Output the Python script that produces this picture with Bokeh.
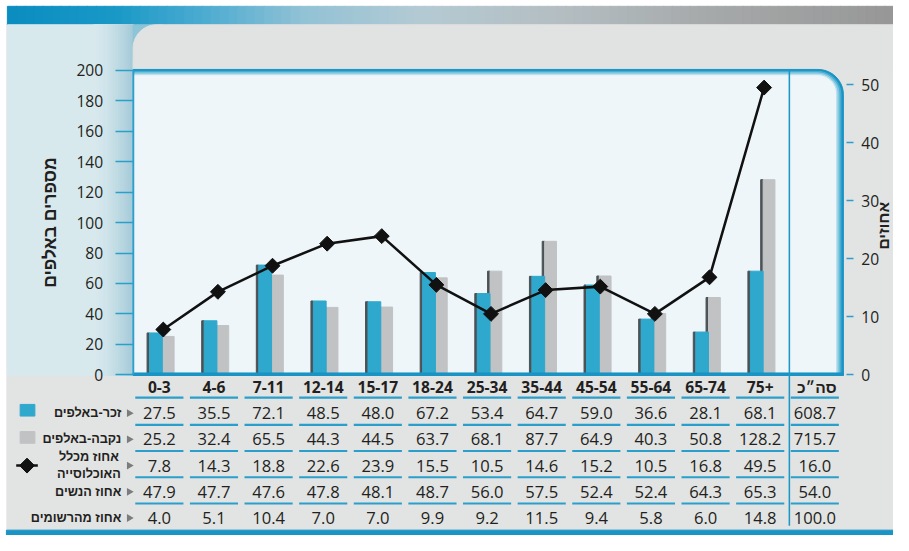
import math
from bokeh.plotting import figure
from bokeh.models import LinearAxis, Range1d, FixedTicker
from bokeh.core.properties import value
from bokeh.embed import file_html
from bokeh.resources import INLINE

# ---------------- data ----------------
age_groups = ["0-3", "4-6", "7-11", "12-14", "15-17", "18-24", "25-34",
              "35-44", "45-54", "55-64", "65-74", "75+"]
total_label = "סה״כ"
male_thousands = [27.5, 35.5, 72.1, 48.5, 48.0, 67.2, 53.4, 64.7, 59.0, 36.6, 28.1, 68.1]
female_thousands = [25.2, 32.4, 65.5, 44.3, 44.5, 63.7, 68.1, 87.7, 64.9, 40.3, 50.8, 128.2]
pct_of_population = [7.8, 14.3, 18.8, 22.6, 23.9, 15.5, 10.5, 14.6, 15.2, 10.5, 16.8, 49.5]
pct_women = [47.9, 47.7, 47.6, 47.8, 48.1, 48.7, 56.0, 57.5, 52.4, 52.4, 64.3, 65.3]
pct_of_registered = [4.0, 5.1, 10.4, 7.0, 7.0, 9.9, 9.2, 11.5, 9.4, 5.8, 6.0, 14.8]
row_totals = [608.7, 715.7, 16.0, 54.0, 100.0]
row_labels = ["זכר-באלפים", "נקבה-באלפים", "אחוז מכלל", "האוכלוסייה", "אחוז הנשים", "אחוז מהרשומים"]
left_ticks = [0, 20, 40, 60, 80, 100, 120, 140, 160, 180, 200]
right_ticks = [0, 10, 20, 30, 40, 50]
left_title = "מספרים באלפים"
right_title = "אחוזים"

# ---------------- layout (design-pixel constants, 909 x 551 design) ----------------
DW, DH = 909, 551
W, H = 893, 535
S = 0.5 * (W / DW + H / DH)    # scale for pixel sizes (fonts, widths)
C0, DX = 161.7, 55.6          # design pixel of first category centre, pixels per category
Y0 = 385.5                     # design pixel of value 0
SY = 313.5 / 200.0             # design pixels per thousand
SP = (385.5 - 86.7) / 50.0     # design pixels per percent

def X(px):
    return (px - C0) / DX

def Y(py):
    return (Y0 - py) / SY

def XL(w):
    return w / DX

def fs(px):
    return "%.1fpx" % (px * S)

def hex2rgb(h):
    return tuple(int(h[i:i + 2], 16) for i in (1, 3, 5))

def mix(c1, c2, t):
    a, b = hex2rgb(c1), hex2rgb(c2)
    return "#%02x%02x%02x" % tuple(int(round(a[k] + (b[k] - a[k]) * t)) for k in range(3))

def grad(stops, x):
    for (x0, c0), (x1, c1) in zip(stops[:-1], stops[1:]):
        if x0 <= x <= x1:
            return mix(c0, c1, (x - x0) / (x1 - x0))
    return stops[-1][1] if x > stops[-1][0] else stops[0][1]

def arc(cx, cy, r, a0, a1, n=14):
    pts = []
    for k in range(n + 1):
        a = math.radians(a0 + (a1 - a0) * k / n)
        pts.append((cx + r * math.cos(a), cy - r * math.sin(a)))
    return pts

def to_data(pts):
    return [X(a) for a, b in pts], [Y(b) for a, b in pts]

p = figure(width=W, height=H, output_backend="svg", toolbar_location=None,
           x_range=Range1d(X(0), X(DW)), y_range=Range1d(Y(DH), Y(0)),
           x_axis_location=None, y_axis_location=None, min_border=0,
           background_fill_color="#ffffff", border_fill_color="#ffffff",
           outline_line_color=None)
p.extra_y_ranges = {"pct": Range1d((Y0 - DH) / SP, Y0 / SP)}
p.xgrid.visible = False
p.ygrid.visible = False

# ---------------- decorations ----------------
# gray body
p.quad(left=X(6.5), right=X(DW + 2), top=Y(24), bottom=Y(546), color="#e2e3e3")

# top band
band_stops = [(7, "#0a8cc0"), (120, "#1a99c7"), (210, "#4eacd1"), (310, "#92c2d5"),
              (430, "#b4cad3"), (570, "#b4bec2"), (720, "#a6a9aa"), (909, "#979797")]
N = 100
bx = [7 + (DW - 7) * k / N for k in range(N + 1)]
p.quad(left=[X(bx[k]) for k in range(N)], right=[X(bx[k + 1] + 0.6) for k in range(N)],
       top=Y(6), bottom=Y(25), color=[grad(band_stops, (bx[k] + bx[k + 1]) / 2) for k in range(N)])

# left light-blue panel
p.quad(left=X(7), right=X(135), top=Y(25), bottom=Y(386), color="#d8e9ee")
M = 16
gx = [95 + 40 * k / M for k in range(M + 1)]
p.quad(left=[X(gx[k]) for k in range(M)], right=[X(gx[k + 1] + 0.4) for k in range(M)],
       top=Y(25), bottom=Y(386),
       color=[mix("#d8e9ee", "#a4cad8", ((k + 0.5) / M) ** 1.5) for k in range(M)])
# corner filler behind rounded gray header
p.quad(left=X(135), right=X(165), top=Y(25), bottom=Y(60), color="#8cc4d8")

# gray header with rounded top-left corner
r = 24
hdr = [(135, 72)] + arc(135 + r, 25 + r, r, 180, 90) + [(DW + 2, 25), (DW + 2, 72)]
hx, hy = to_data(hdr)
p.patch(hx, hy, color="#e1e2e2")

# plot frame: nested rounded rectangles (blue gradient border top & right)
levels = [("#1a94c4", 0, 0, 0, 0, 26), ("#4aaed3", 1.5, 2.0, 2.5, 2.0, 24),
          ("#86c9e0", 1.5, 3.5, 4.5, 2.0, 22), ("#bfe1ec", 1.5, 5.0, 6.5, 2.0, 20),
          ("#eef6f9", 1.5, 6.5, 8.0, 2.0, 18)]
for col, li, ti, ri, bi, rr in levels:
    x0, y0, x1, y1 = 135 + li, 71 + ti, 858 - ri, 386 - bi
    pts = [(x0, y1), (x0, y0)] + arc(x1 - rr, y0 + rr, rr, 90, 0) + [(x1, y1)]
    fx, fy = to_data(pts)
    p.patch(fx, fy, color=col)

# ---------------- bars ----------------
idx = list(range(len(age_groups)))
g = XL(3.0)
bw_m, bw_f, sh = XL(13.0), XL(12.0), XL(2.5)
p.quad(left=[i + g - sh for i in idx], right=[i + g for i in idx], bottom=0,
       top=female_thousands, color="#4b5256")
p.quad(left=[i + g for i in idx], right=[i + g + bw_f for i in idx], bottom=0,
       top=female_thousands, color="#c0c2c3")
p.quad(left=[i + g - bw_m - sh for i in idx], right=[i + g - bw_m for i in idx], bottom=0,
       top=male_thousands, color="#4b5256")
p.quad(left=[i + g - bw_m for i in idx], right=[i + g for i in idx], bottom=0,
       top=male_thousands, color="#2fa8cd")

# bottom frame line and separator
p.quad(left=X(135), right=X(858), top=Y(383.6), bottom=Y(386.2), color="#1a94c4")
p.segment(x0=X(803), x1=X(803), y0=Y(72), y1=Y(541), line_color="#1d97c6", line_width=1.6 * S)

# ---------------- line (percent of population) ----------------
lx = [i + XL(4.0) for i in idx]
p.line(lx, pct_of_population, y_range_name="pct", line_color="#111111", line_width=2.6 * S)
p.scatter(lx, pct_of_population, y_range_name="pct", marker="square", angle=math.pi / 4,
          size=10.8 * S, fill_color="#111111", line_color="#111111")

# ---------------- axes ----------------
yl = LinearAxis(fixed_location=X(135), ticker=FixedTicker(ticks=left_ticks), bounds=(0, 200),
                axis_line_color="#2a9fcb", axis_line_width=1.5,
                major_tick_line_color="#2a9fcb", major_tick_line_width=1.6,
                major_tick_out=int(round(18 * S)), major_tick_in=0, minor_tick_out=0, minor_tick_in=0,
                major_label_standoff=int(round(12 * S)), major_label_text_font="Open Sans",
                major_label_text_font_size=fs(16), major_label_text_color="#231f20",
                axis_label=left_title, axis_label_text_font="Liberation Sans",
                axis_label_text_font_style="bold", axis_label_text_font_size=fs(18),
                axis_label_standoff=int(round(14 * S)), axis_label_text_color="#231f20")
p.add_layout(yl, "left")

yr = LinearAxis(y_range_name="pct", fixed_location=X(861), ticker=FixedTicker(ticks=right_ticks),
                bounds=(0, 50), axis_line_color=None,
                major_tick_line_color="#2a9fcb", major_tick_line_width=1.6,
                major_tick_out=int(round(7 * S)), major_tick_in=0, minor_tick_out=0, minor_tick_in=0,
                major_label_standoff=int(round(8 * S)), major_label_text_font="Open Sans",
                major_label_text_font_size=fs(16), major_label_text_color="#231f20")
p.add_layout(yr, "right")
p.text(x=[X(899)], y=[Y(232)], text=[right_title], angle=math.pi / 2,
       text_font=value("Liberation Sans"), text_font_style="bold", text_font_size=fs(16),
       text_color="#231f20", text_align="center", text_baseline="alphabetic")

# ---------------- table ----------------
cols = idx + [12]
header_y, underline_y = 398, [409, 437, 464, 491, 518]
row_y = [425, 452, 479, 506, 533]
p.text(x=idx, y=[Y(header_y)] * len(idx), text=age_groups, text_font=value("Open Sans"),
       text_font_style="bold", text_font_size=fs(16), text_color="#231f20",
       text_align="center", text_baseline="middle")
p.text(x=[12 + XL(2)], y=[Y(header_y + 1)], text=[total_label], text_font=value("Liberation Sans"),
       text_font_style="bold", text_font_size=fs(16), text_color="#231f20",
       text_align="center", text_baseline="middle")

half = XL(24.5)
ux0, ux1, uy = [], [], []
for yy in underline_y:
    for c in cols:
        ux0.append(c - half); ux1.append(c + half); uy.append(Y(yy))
p.segment(x0=ux0, x1=ux1, y0=uy, y1=uy, line_color="#2a9fcb", line_width=2.2 * S)

rows = [male_thousands, female_thousands, pct_of_population, pct_women, pct_of_registered]
tx, ty, tt = [], [], []
for r_i, (vals, tot) in enumerate(zip(rows, row_totals)):
    for c, v in zip(cols, list(vals) + [tot]):
        tx.append(c); ty.append(Y(row_y[r_i])); tt.append("%.1f" % v)
p.text(x=tx, y=ty, text=tt, text_font=value("Open Sans"), text_font_size=fs(17),
       text_color="#231f20", text_align="center", text_baseline="middle")

# row labels
lab_x = [X(123), X(123), X(90), X(90), X(123), X(123)]
lab_y = [Y(row_y[0]), Y(row_y[1]), Y(470), Y(488), Y(row_y[3]), Y(row_y[4])]
lab_al = ["right", "right", "center", "center", "right", "right"]
p.text(x=lab_x, y=lab_y, text=row_labels, text_font=value("Liberation Sans"),
       text_font_style="bold", text_font_size=fs(13), text_color="#231f20",
       text_align=lab_al, text_baseline="middle")
p.scatter(x=[X(131)] * 5, y=[Y(v) for v in row_y], marker="triangle", angle=-math.pi / 2,
          size=8 * S, fill_color="#7c7c7c", line_color=None)

# legend swatches
p.quad(left=X(20), right=X(35), top=Y(416), bottom=Y(428), color="#2fa8cd")
p.quad(left=X(20), right=X(35), top=Y(444), bottom=Y(456), color="#c0c2c3")
p.segment(x0=X(16), x1=X(38), y0=Y(479), y1=Y(479), line_color="#111111", line_width=2.6 * S)
p.scatter(x=[X(27)], y=[Y(479)], marker="square", angle=math.pi / 4, size=10.8 * S,
          fill_color="#111111", line_color="#111111")

# bottom stripe
p.quad(left=X(6), right=X(DW + 2), top=Y(545.5), bottom=Y(DH + 2), color="#1a94c4")

open("out.html", "w").write(file_html(p, INLINE))
